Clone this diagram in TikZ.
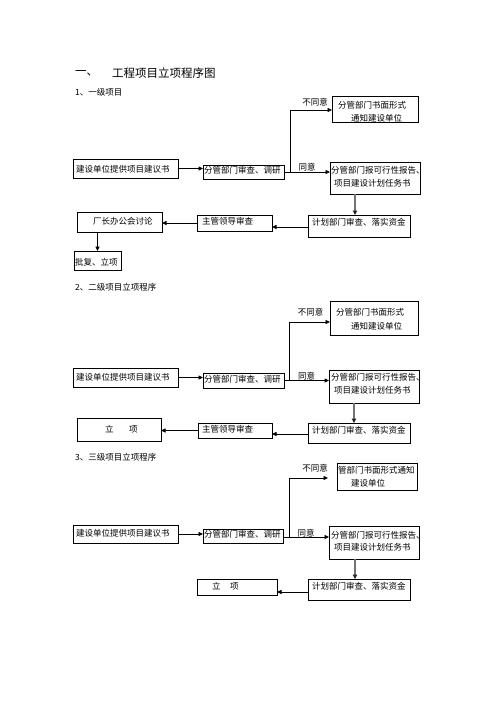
\documentclass[tikz,border=0pt]{standalone}
\usepackage{fontspec}
\newfontfamily\cjk{Noto Sans CJK SC}
\usetikzlibrary{arrows.meta}
\begin{document}
\begin{tikzpicture}[x=1pt,y=-1pt,
  box/.style={draw, line width=1pt, inner sep=0pt, outer sep=0pt},
  txt/.style={anchor=west, inner sep=0pt, font=\cjk\fontsize{8.5pt}{10pt}\selectfont},
  lbl/.style={inner sep=0pt, font=\cjk\fontsize{8.5pt}{10pt}\selectfont},
  ttl/.style={anchor=west, inner sep=0pt, font=\cjk\fontsize{11.5pt}{13pt}\selectfont},
  arr/.style={-{Triangle[length=4.5pt,width=4pt]}, line width=0.8pt},
  varr/.style={-{Triangle[length=4.5pt,width=4.5pt,color=black!85]}, line width=1.4pt, draw=black!55}]
\useasboundingbox[fill=white] (0,0) rectangle (496,702);

% titles
\node[ttl] (T0a) at (75,73) {一、};
\node[ttl] (T0b) at (112,73) {工程项目立项程序图};
\node[txt] (T1) at (75,92) {1、一级项目};
\node[txt] (T2) at (75,287) {2、二级项目立项程序};
\node[txt] (T3) at (75,457) {3、三级项目立项程序};

% ===== section 1 =====
\node[box, minimum width=105pt, minimum height=19pt] (A1) at (125.5,168.5) {};
\node[box, minimum width=81pt, minimum height=14pt] (B1) at (243.5,172) {};
\node[box, minimum width=86pt, minimum height=26pt] (C1) at (375,109) {};
\node[box, minimum width=90pt, minimum height=32pt] (D1) at (375,178) {};
\node[box, minimum width=102pt, minimum height=22pt] (E1) at (359,226) {};
\node[box, minimum width=75pt, minimum height=16pt] (F1) at (234.5,223) {};
\node[box, minimum width=85pt, minimum height=20pt] (G1) at (119.5,222) {};
\node[box, minimum width=47pt, minimum height=19pt] (H1) at (97.5,260.5) {};

\node[txt] (A1t) at (76,169) {建设单位提供项目建议书};
\node[txt] (B1t) at (204,170) {分管部门审查、调研};
\node[txt] (C1ta) at (338,105) {分管部门书面形式};
\node[txt] (C1tb) at (351,118) {通知建设单位};
\node[txt] (D1ta) at (331,170) {分管部门报可行性报告、};
\node[txt] (D1tb) at (334,183) {项目建设计划任务书};
\node[txt] (E1t) at (312,222) {计划部门审查、落实资金};
\node[txt] (F1t) at (202,221) {主管领导审查};
\node[txt] (G1t) at (93,221) {厂长办公会讨论};
\node[txt] (H1t) at (75,262) {批复、立项};
\node[lbl] (N1) at (315,102.5) {不同意};
\node[lbl] (Y1) at (307,167) {同意};

\coordinate (J1) at (290,172);
\draw[arr] (A1.east) -- (A1.east -| B1.west);
\draw[line width=0.8pt] (B1.east) -- (J1);
\draw[arr] (J1) -- (J1 -| D1.west);
\draw[arr] (J1) |- ([yshift=-1pt]C1.west);
\draw[varr] ([xshift=-20pt]D1.south) -- ([xshift=-20pt]D1.south |- E1.north);
\draw[arr] ([yshift=-1pt]E1.west) -- ([yshift=-1pt]E1.west -| F1.east);
\draw[arr] (F1.west) -- (F1.west -| G1.east);
\draw[arr] (G1.south -| H1.north) -- (H1.north);

% ===== section 2 =====
\node[box, minimum width=105pt, minimum height=19pt] (A2) at (125.5,377.5) {};
\node[box, minimum width=81pt, minimum height=15pt] (B2) at (243.5,380.5) {};
\node[box, minimum width=88pt, minimum height=34pt] (C2) at (374,318) {};
\node[box, minimum width=90pt, minimum height=33pt] (D2) at (374,386.5) {};
\node[box, minimum width=102pt, minimum height=20pt] (E2) at (359,433) {};
\node[box, minimum width=74pt, minimum height=15pt] (F2) at (235,430.5) {};
\node[box, minimum width=84pt, minimum height=23pt] (G2) at (119,429.5) {};

\node[txt] (A2t) at (76,377.5) {建设单位提供项目建议书};
\node[txt] (B2t) at (204,379) {分管部门审查、调研};
\node[txt] (C2ta) at (336,312) {分管部门书面形式};
\node[txt] (C2tb) at (351,326) {通知建设单位};
\node[txt] (D2ta) at (331,377) {分管部门报可行性报告、};
\node[txt] (D2tb) at (334,390) {项目建设计划任务书};
\node[txt] (E2t) at (312,430) {计划部门审查、落实资金};
\node[txt] (F2t) at (202,429) {主管领导审查};
\node[txt] (G2t) at (105,429.5) {立\hspace{15.5pt}项};
\node[lbl] (N2) at (310.5,312) {不同意};
\node[lbl] (Y2) at (306.5,376) {同意};

\coordinate (J2) at (289,380.5);
\draw[arr] (A2.east) -- (A2.east -| B2.west);
\draw[line width=0.8pt] (B2.east) -- (J2);
\draw[arr] (J2) -- (J2 -| D2.west);
\draw[arr] (J2) |- ([yshift=-4pt]C2.west);
\draw[varr] ([xshift=-20pt]D2.south) -- ([xshift=-20pt]D2.south |- E2.north);
\draw[arr] ([yshift=-1pt]E2.west) -- ([yshift=-1pt]E2.west -| F2.east);
\draw[arr] (F2.west) -- (F2.west -| G2.east);

% ===== section 3 =====
\node[box, minimum width=105pt, minimum height=18pt] (A3) at (125.5,534) {};
\node[box, minimum width=80pt, minimum height=14pt] (B3) at (243,536) {};
\node[box, minimum width=80pt, minimum height=27pt] (C3) at (377,476.5) {};
\node[box, minimum width=90pt, minimum height=33pt] (D3) at (374,542.5) {};
\node[box, minimum width=102pt, minimum height=21pt] (E3) at (359,589.5) {};
\node[box, minimum width=80pt, minimum height=16pt] (F3) at (237,587) {};

\node[txt] (A3t) at (76,533) {建设单位提供项目建议书};
\node[txt] (B3t) at (204,534) {分管部门审查、调研};
\node[txt] (C3ta) at (338,470) {管部门书面形式通知};
\node[txt] (C3tb) at (351,483) {建设单位};
\node[txt] (D3ta) at (331,535) {分管部门报可行性报告、};
\node[txt] (D3tb) at (334,547) {项目建设计划任务书};
\node[txt] (E3t) at (312,586) {计划部门审查、落实资金};
\node[txt] (F3t) at (212,586) {立\hspace{9.5pt}项};
\node[lbl] (N3) at (315,468.5) {不同意};
\node[lbl] (Y3) at (306,533.5) {同意};

\coordinate (J3) at (289,537);
\draw[arr] (A3.east) -- (A3.east -| B3.west);
\draw[line width=0.8pt] (B3.east |- J3) -- (J3);
\draw[arr] (J3) -- (J3 -| D3.west);
\draw[arr, shorten >=9pt] (J3) |- ([yshift=-1.5pt]C3.west);
\draw[varr] ([xshift=-19pt]D3.south) -- ([xshift=-19pt]D3.south |- E3.north);
\draw[arr] ([yshift=-2.5pt]E3.west) -- ([yshift=-2.5pt]E3.west -| F3.east);
\end{tikzpicture}
\end{document}
